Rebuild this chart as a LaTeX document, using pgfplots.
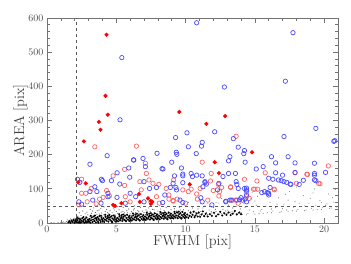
\documentclass[border=0pt]{standalone}
\usepackage{pgfplots}
\pgfplotsset{compat=1.18}
\definecolor{bluec}{RGB}{75,75,255}
\definecolor{redo}{RGB}{255,100,100}
\definecolor{redf}{RGB}{255,0,0}
\begin{document}
\begin{tikzpicture}
\path[use as bounding box] (-47pt,-40pt) rectangle (304pt,223pt);
\begin{axis}[at={(0,0)}, anchor=south west, scale only axis,
  width=291pt, height=205pt,
  xmin=0, xmax=21, ymin=0, ymax=600,
  xtick={0,5,10,15,20}, minor x tick num=4,
  ytick={0,100,200,300,400,500,600}, minor y tick num=4,
  tick align=inside, major tick length=5pt, minor tick length=3pt,
  axis line style={black!55, line width=0.8pt},
  every tick/.style={black!55, line width=0.7pt},
  tick label style={font=\normalsize, text=black!70},
  xlabel={FWHM [pix]}, ylabel={AREA [pix]},
  label style={font=\Large, text=black!75},
  xlabel style={at={(axis description cs:0.5,0)}, anchor=north, yshift=-11pt, inner sep=0pt},
  ylabel style={at={(axis description cs:0,0.5)}, anchor=south, yshift=19pt, inner sep=0pt},
  only marks]
% diffuse halo
\addplot[mark=*, mark size=0.6pt, draw=black!60, fill=black!60, mark options={draw opacity=0}] coordinates {
(0.3,1) (0.5,0.5) (0.8,1) (1.0,2) (1.1,0.5) (1.2,3) (1.3,1) (1.4,4) (1.5,2) (1.55,6) (1.6,1) (1.65,8) (1.7,3) (1.75,5) (1.8,10) (1.85,2) (1.9,7) (1.95,14) (1.7,12) (1.5,9)
(2.05,3) (2.1,8) (2.15,1) (2.2,12) (2.25,5) (2.3,17) (2.35,2) (2.4,9) (2.45,22) (2.5,6) (2.55,14) (2.6,3) (2.65,19) (2.7,10) (2.75,27) (2.8,4) (2.85,15) (2.9,8) (2.95,24) (3.0,12) (2.12,25) (2.33,30) (2.58,35) (2.88,32) (2.68,1) (2.22,20) (2.42,14) (2.78,18)
(3.05,2) (3.1,18) (3.15,7) (3.2,28) (3.25,11) (3.3,35) (3.35,4) (3.4,21) (3.45,14) (3.5,31) (3.55,8) (3.6,25) (3.65,3) (3.7,17) (3.75,38) (3.8,10) (3.85,22) (3.9,6) (3.95,29) (4.0,14) (3.12,40) (3.38,44) (3.62,36) (3.88,42) (3.28,20) (3.52,16) (3.78,26) (3.98,20) (3.42,9) (3.68,12)
(4.05,4) (4.1,24) (4.15,9) (4.2,33) (4.25,15) (4.3,40) (4.35,6) (4.4,19) (4.45,27) (4.5,11) (4.55,36) (4.6,7) (4.65,22) (4.7,30) (4.75,13) (4.8,44) (4.85,9) (4.9,25) (4.95,17) (5.0,34) (4.12,47) (4.38,31) (4.62,14) (4.88,38) (4.28,10) (4.52,21) (4.72,5) (4.98,12) (4.18,18) (4.42,12)
(5.05,8) (5.1,28) (5.15,14) (5.2,39) (5.25,6) (5.3,21) (5.35,32) (5.4,10) (5.45,25) (5.5,45) (5.55,12) (5.6,30) (5.65,18) (5.7,8) (5.75,36) (5.8,23) (5.85,11) (5.9,41) (5.95,16) (6.0,27) (5.22,17) (5.48,34) (5.72,14) (5.92,20) (5.12,48) (5.38,19) (5.62,24) (5.82,30) (5.3,12) (5.58,9)
(6.05,10) (6.1,33) (6.15,19) (6.2,12) (6.25,26) (6.3,42) (6.35,15) (6.4,30) (6.45,9) (6.5,22) (6.55,37) (6.6,13) (6.65,28) (6.7,18) (6.75,46) (6.8,11) (6.85,24) (6.9,35) (6.95,15) (7.0,30) (6.12,22) (6.38,20) (6.62,33) (6.88,19) (6.22,38) (6.48,16) (6.72,25) (6.98,13) (6.32,50) (6.58,21)
(7.05,12) (7.1,25) (7.15,38) (7.2,16) (7.25,29) (7.3,13) (7.35,44) (7.4,20) (7.45,33) (7.5,15) (7.55,26) (7.6,40) (7.65,14) (7.7,22) (7.75,31) (7.8,17) (7.85,48) (7.9,24) (7.95,15) (8.0,35) (7.12,20) (7.38,27) (7.62,18) (7.88,28) (7.22,34) (7.48,22) (7.72,39) (7.98,20)
(8.05,14) (8.1,27) (8.15,19) (8.2,41) (8.25,16) (8.3,31) (8.35,22) (8.4,15) (8.45,37) (8.5,25) (8.55,18) (8.6,45) (8.65,29) (8.7,16) (8.75,34) (8.8,21) (8.85,26) (8.9,17) (8.95,39) (9.0,23) (8.12,33) (8.38,28) (8.62,20) (8.88,31) (8.28,48) (8.52,30) (8.78,19)
(9.05,16) (9.1,30) (9.15,20) (9.2,42) (9.25,25) (9.3,18) (9.35,35) (9.4,22) (9.45,28) (9.5,19) (9.55,46) (9.6,26) (9.65,20) (9.7,33) (9.75,24) (9.8,21) (9.85,39) (9.9,28) (9.95,22) (10.0,31) (10.1,25) (10.2,36) (10.3,22) (10.4,29) (10.5,44) (9.12,24) (9.38,32) (9.62,38) (9.88,25) (10.15,20) (10.35,33)
(10.6,22) (10.7,30) (10.8,25) (10.9,41) (11.0,23) (11.1,34) (11.2,27) (11.3,22) (11.5,31) (11.6,25) (11.7,38) (11.8,24) (11.9,29) (12.0,45) (12.1,27) (12.2,33) (12.3,25) (12.5,30) (12.6,27) (12.7,40) (12.8,29) (12.9,35) (13.0,28) (13.2,31) (13.3,27) (13.4,44) (13.5,30) (13.6,36) (13.7,28) (13.9,33) (14.0,30) (10.65,35) (10.95,28) (11.25,44) (11.55,21) (11.85,33) (12.15,40) (12.45,26) (12.75,31) (13.05,38) (13.35,34) (13.95,41)
};
% sparse outer dots
\addplot[mark=*, mark size=0.55pt, draw=black!50, fill=black!50, mark options={draw opacity=0}] coordinates {
(11.4,50) (12.4,58) (13.1,52) (13.8,62) (13.65,48)
(14.1,25) (14.3,45) (14.5,28) (14.7,70) (14.9,33) (15.1,52) (15.3,27) (15.5,40) (15.7,85) (15.9,30) (16.1,60) (16.3,35) (16.5,45) (16.7,74) (16.9,33) (17.1,55) (17.3,38) (17.5,92) (17.7,36) (17.9,63) (18.1,39) (18.3,48) (18.5,80) (18.7,38) (18.9,58) (19.1,43) (19.3,100) (19.5,40) (19.7,66) (19.9,45) (20.1,52) (20.3,85) (20.5,44) (20.7,61) (20.9,47)
(14.2,58) (14.6,38) (15.0,64) (15.4,35) (15.8,49) (16.2,41) (16.6,55) (17.0,42) (17.4,67) (17.8,46) (18.2,58) (18.6,50) (19.0,72) (19.4,52) (19.8,60) (20.2,56) (20.6,75)
(14.8,90) (16.4,95) (18.0,105) (19.6,118) (20.8,98) (13.0,62) (12.2,60) (11.6,58) (15.2,78) (17.2,84) (19.2,88) (10.2,60) (11.0,65) (12.6,72) (13.4,68)
(14.4,24) (15.0,26) (15.6,28) (16.2,30) (16.8,31) (17.4,33) (18.0,35) (18.6,36) (19.2,38) (19.8,40) (20.4,42)
};
% dense band
\addplot[mark=*, mark size=1.15pt, draw=black, fill=black, mark options={draw opacity=0}] coordinates {
(1.55,2) (1.62,5) (1.7,1) (1.78,7) (1.85,3) (1.92,9) (2.0,1) (2.05,6) (2.1,11) (2.15,3) (2.2,8) (2.25,1) (2.3,13) (2.35,5) (2.4,10) (2.45,2) (2.5,7) (2.55,14) (2.6,4) (2.65,9) (2.7,1) (2.75,12) (2.8,6) (2.85,16) (2.9,3) (2.95,10) (3.0,7) (2.18,15) (2.62,17) (2.38,1) (2.82,2)
(3.03,4) (3.08,12) (3.13,1) (3.18,8) (3.23,16) (3.28,3) (3.33,10) (3.38,19) (3.43,6) (3.48,14) (3.53,2) (3.58,9) (3.63,17) (3.68,5) (3.73,12) (3.78,20) (3.83,8) (3.88,3) (3.93,15) (3.98,10) (3.16,21) (3.46,22) (3.71,1) (3.9,21) (3.56,13)
(4.03,6) (4.08,14) (4.13,3) (4.18,10) (4.23,18) (4.28,7) (4.33,13) (4.38,21) (4.43,4) (4.48,11) (4.53,16) (4.58,8) (4.63,19) (4.68,5) (4.73,13) (4.78,22) (4.83,9) (4.88,15) (4.93,4) (4.98,11) (4.2,24) (4.5,24) (4.7,2) (4.9,20) (4.4,17)
(5.03,7) (5.08,15) (5.13,5) (5.18,11) (5.23,20) (5.28,8) (5.33,14) (5.38,23) (5.43,6) (5.48,12) (5.53,18) (5.58,9) (5.63,21) (5.68,7) (5.73,15) (5.78,24) (5.83,10) (5.88,17) (5.93,6) (5.98,13) (5.2,26) (5.5,25) (5.7,5) (5.95,21) (5.4,17)
(6.03,9) (6.08,17) (6.13,7) (6.18,13) (6.23,22) (6.28,10) (6.33,16) (6.38,25) (6.43,8) (6.48,14) (6.53,20) (6.58,11) (6.63,23) (6.68,8) (6.73,17) (6.78,26) (6.83,12) (6.88,19) (6.93,9) (6.98,15) (6.2,28) (6.5,27) (6.7,7) (6.95,23) (6.4,19)
(7.03,11) (7.08,19) (7.13,9) (7.18,15) (7.23,24) (7.28,12) (7.33,18) (7.38,27) (7.43,10) (7.48,16) (7.53,22) (7.58,13) (7.63,25) (7.68,10) (7.73,19) (7.78,28) (7.83,14) (7.88,21) (7.93,11) (7.98,17) (7.2,30) (7.5,29) (7.7,9) (7.95,25) (7.4,21)
(8.03,13) (8.08,21) (8.13,11) (8.18,17) (8.23,26) (8.28,14) (8.33,20) (8.38,29) (8.43,12) (8.48,18) (8.53,24) (8.58,15) (8.63,27) (8.68,12) (8.73,21) (8.78,30) (8.83,16) (8.88,23) (8.93,13) (8.98,19) (8.2,32) (8.5,31) (8.7,11) (8.95,27) (8.4,23)
(9.03,15) (9.08,23) (9.13,13) (9.18,19) (9.23,28) (9.28,16) (9.33,22) (9.38,31) (9.43,14) (9.48,20) (9.53,26) (9.58,17) (9.63,29) (9.68,14) (9.73,23) (9.78,32) (9.83,18) (9.88,25) (9.93,15) (9.98,21) (9.2,33) (9.5,33) (9.7,13) (9.95,29)
(10.05,17) (10.12,25) (10.2,15) (10.28,21) (10.35,30) (10.42,18) (10.5,24) (10.58,33) (10.65,17) (10.72,22) (10.8,28) (10.88,19) (10.95,31) (11.05,18) (11.15,25) (11.25,34) (11.35,20) (11.45,27)
(11.6,19) (11.75,26) (11.9,21) (12.05,30) (12.2,20) (12.35,25) (12.5,33) (12.65,22) (12.8,28) (12.95,24) (13.1,31) (13.25,23) (13.4,27) (13.55,35) (13.7,25) (13.85,30) (14.0,26)
};
% red open
\addplot[mark=o, mark size=2.2pt, redo, mark options={line width=0.7pt}] coordinates {
(3.45,223) (6.45,225) (7.1,175) (4.77,138) (2.5,128) (6.7,121) (7.36,126) (5.6,110) (3.2,101) (2.5,87) (2.8,87) (4.3,95) (4.05,75) (5.65,77) (6.8,97) (2.3,53) (2.9,62) (3.55,56) (6.0,62) (7.5,62)
(13.65,254) (11.2,178) (15.75,147) (18.75,143) (20.3,167) (14.25,128) (15.15,123) (19.6,116) (18.0,116) (13.25,106) (14.9,99) (15.2,99) (16.4,99) (12.0,95) (10.2,92) (11.05,101) (12.45,92) (13.4,67) (14.6,72) (12.4,79) (10.8,85) (8.8,70) (9.1,66)
(11.85,145) (9.14,126) (11.8,123) (12.37,113) (12.6,104) (13.25,104) (10.4,99) (9.8,97) (8.6,101) (8.07,113) (7.65,116) (8.8,82) (7.9,77) (8.1,58) (9.1,64) (9.4,70) (10.0,58) (10.85,70) (11.6,67) (13.6,67) (13.8,58) (17.9,147) (18.8,142) (19.7,115) (15.0,99) (16.4,97) (14.4,77)
(5.6,157) (7.17,145) (3.8,70) (4.5,79)
};
% blue open
\addplot[mark=o, mark size=2.2pt, bluec, mark options={line width=0.7pt}] coordinates {
(5.4,484) (5.27,302) (10.1,264) (9.28,250) (10.8,586) (17.75,557) (17.2,415) (12.8,398) (12.1,267) (19.4,277) (13.45,247) (17.1,253) (11.2,236) (20.7,239) (11.15,225) (10.2,223) (13.8,222) (9.33,207) (9.37,201) (10.77,203) (14.2,203) (16.2,194) (17.4,194) (13.2,194) (13.1,182) (14.3,178) (16.5,176) (17.9,176) (19.3,175) (9.0,178) (15.6,165) (9.7,161) (13.1,145) (13.6,145) (15.1,158) (16.5,147) (17.9,148) (20.1,148) (19.3,145) (9.8,143) (10.4,145) (10.5,136) (12.7,136) (16.0,131) (16.7,126) (17.3,119) (19.3,126) (18.5,125) (17.55,114) (11.4,121) (11.25,106) (13.65,121) (13.8,101) (14.25,101) (14.4,97) (15.7,92) (15.9,89) (16.0,87) (12.4,116) (12.3,97) (9.1,116) (9.3,104) (11.5,114) (13.2,67) (12.9,64) (13.7,67) (13.9,68) (14.3,70) (14.4,82) (11.1,74) (9.6,67)
(4.34,197) (3.1,172) (5.9,161) (6.26,184) (6.93,189) (7.1,165) (5.06,147) (5.97,134) (4.65,124) (3.93,128) (4.0,124) (2.37,119) (2.2,128) (7.0,121) (5.25,114) (3.45,106) (3.1,92) (3.6,92) (4.4,87) (4.4,77) (5.05,75) (6.4,77) (6.0,87) (7.4,101) (2.3,62) (2.5,55) (3.3,67) (3.9,58) (5.65,58) (7.0,62)
(7.94,204) (8.3,159) (9.8,138) (10.8,140) (11.2,138) (9.2,138) (9.8,118) (11.4,118) (13.7,113) (9.35,97) (8.9,104) (7.9,104) (8.5,82) (8.35,60) (9.8,60) (11.2,62) (11.9,53) (12.9,62) (13.3,67) (14.1,67) (14.25,212) (17.0,140) (19.3,140) (16.3,128) (16.9,124) (17.1,121) (17.6,113) (18.2,113) (19.4,124) (16.1,104) (14.4,102) (14.4,93) (15.5,89) (16.0,82) (14.0,74) (14.4,62) (8.37,158) (6.24,185) (20.77,241)
};
% red filled
\addplot[mark=*, mark size=1.9pt, redf, mark options={draw=redf, fill=redf}] coordinates {
(4.29,551) (4.22,372) (4.39,317) (3.74,296) (3.86,273) (9.55,325) (2.66,239) (12.86,313) (11.5,290) (14.8,207) (12.1,178) (12.4,146) (10.3,113) (2.25,119) (2.8,116) (6.64,85) (7.29,72) (6.7,62) (5.37,58) (4.77,53) (7.5,56) (7.6,62) (4.9,50) (7.5,64)
};
% thresholds
\addplot[no markers, sharp plot, dashed, black!65, line width=0.7pt] coordinates {(2.1,0) (2.1,600)};
\addplot[no markers, sharp plot, dashed, black!65, line width=0.7pt] coordinates {(0,50) (21,50)};
\end{axis}
\end{tikzpicture}
\end{document}
